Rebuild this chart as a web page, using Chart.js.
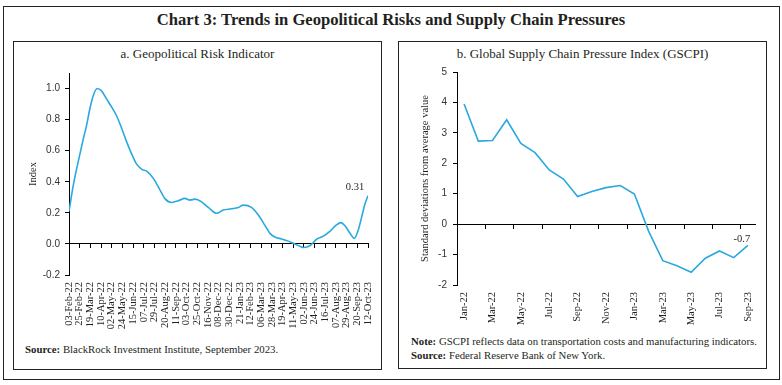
<!DOCTYPE html>
<html>
<head>
<meta charset="utf-8">
<script src="https://cdn.jsdelivr.net/npm/chart.js@4"></script>
<style>
  body { margin: 0; width: 782px; height: 385px; background: #fff; position: relative; font-family: "Liberation Serif", serif; color: #231f20; }
  .box { position: absolute; border: 1.3px solid #222; box-sizing: border-box; }
  .abs { position: absolute; white-space: nowrap; }
  .title { left: 0; width: 782px; top: 10px; text-align: center; font-size: 16.6px; font-weight: bold; }
  .ptitle { font-size: 13px; text-align: center; top: 46px; }
  .note { font-size: 10.8px; }
  canvas { position: absolute; }
</style>
</head>
<body>
<div class="box" style="left:3px; top:6px; width:777px; height:374px;"></div>
<div class="abs title">Chart 3: Trends in Geopolitical Risks and Supply Chain Pressures</div>

<div class="box" style="left:13px; top:41px; width:369px; height:329px;"></div>
<div class="abs ptitle" style="left:13px; width:369px;">a. Geopolitical Risk Indicator</div>
<canvas id="chartA" width="366" height="270" style="left:14px; top:60px;"></canvas>
<div class="abs note" style="left:25px; top:343px;"><b>Source:</b> BlackRock Investment Institute, September 2023.</div>

<div class="box" style="left:398px; top:41px; width:369px; height:328px;"></div>
<div class="abs ptitle" style="left:398px; width:369px;">b. Global Supply Chain Pressure Index (GSCPI)</div>
<canvas id="chartB" width="366" height="265" style="left:399px; top:60px;"></canvas>
<div class="abs note" style="left:411px; top:335px;"><b>Note:</b> GSCPI reflects data on transportation costs and manufacturing indicators.</div>
<div class="abs note" style="left:411px; top:349px;"><b>Source:</b> Federal Reserve Bank of New York.</div>

<script>
// a. Geopolitical risk indicator (days counted from 03-Feb-22)
var riskTickLabels = ['03-Feb-22','25-Feb-22','19-Mar-22','10-Apr-22','02-May-22','24-May-22','15-Jun-22',
  '07-Jul-22','29-Jul-22','20-Aug-22','11-Sep-22','03-Oct-22','25-Oct-22','16-Nov-22','08-Dec-22',
  '30-Dec-22','21-Jan-23','12-Feb-23','06-Mar-23','28-Mar-23','19-Apr-23','11-May-23','02-Jun-23',
  '24-Jun-23','16-Jul-23','07-Aug-23','29-Aug-23','20-Sep-23','12-Oct-23'];
var riskDays = [0,9,19,29,36,43,50,58,67,78,88,98,109,119,129,139,150,160,174,187,198,212,225,239,249,260,
  273,287,304,318,335,349,359,376,390,404,414,424,438,452,465,476,483,497,510,524,538,551,560,569,579,
  588,596,604,610,616];
var riskValues = [0.21,0.38,0.53,0.67,0.76,0.87,0.955,1.0,0.985,0.93,0.88,0.825,0.74,0.655,0.58,0.515,0.48,
  0.468,0.42,0.35,0.29,0.267,0.278,0.293,0.282,0.288,0.271,0.235,0.197,0.218,0.226,0.235,0.25,0.235,0.186,
  0.118,0.068,0.045,0.032,0.018,0.0,-0.015,-0.023,-0.01,0.03,0.05,0.083,0.122,0.137,0.115,0.068,0.036,
  0.09,0.186,0.26,0.31];

// b. GSCPI, monthly
var months = ['Jan-22','Feb-22','Mar-22','Apr-22','May-22','Jun-22','Jul-22','Aug-22','Sep-22','Oct-22',
  'Nov-22','Dec-22','Jan-23','Feb-23','Mar-23','Apr-23','May-23','Jun-23','Jul-23','Aug-23','Sep-23'];
var gscpi = [3.95,2.73,2.75,3.43,2.65,2.35,1.78,1.48,0.91,1.07,1.2,1.27,0.99,-0.23,-1.2,-1.37,-1.58,-1.12,-0.88,-1.1,-0.7];

var LINE = '#2aa8e0';
var serif = 'Liberation Serif';
var sans = 'Liberation Sans';
var ink = '#231f20';

function lastLabel(text, dx, dy) {
  return {
    id: 'lastLabel',
    afterDatasetsDraw: function(chart) {
      var pts = chart.getDatasetMeta(0).data;
      var p = pts[pts.length - 1];
      var c = chart.ctx;
      c.save();
      c.font = '10.5px ' + serif;
      c.fillStyle = ink;
      c.textAlign = 'center';
      c.textBaseline = 'middle';
      c.fillText(text, p.x + dx, p.y + dy);
      c.restore();
    }
  };
}

// no extra side padding for the rotated labels
function noSidePad(s, h) { s.height = h; s.paddingLeft = 0; s.paddingRight = 0; }

var ptsA = riskDays.map(function(d, i) { return {x: d, y: riskValues[i]}; });

new Chart(document.getElementById('chartA'), {
  type: 'line',
  data: { datasets: [{ data: ptsA, borderColor: LINE, borderWidth: 1.6, pointRadius: 0,
    cubicInterpolationMode: 'monotone', tension: 0.4 }] },
  options: {
    responsive: false, animation: false,
    layout: { padding: { top: 13, right: 12, left: 0, bottom: 0 } },
    plugins: { legend: { display: false }, tooltip: { enabled: false } },
    scales: {
      x: {
        type: 'linear', min: 0, max: 616,
        grid: { display: false, drawTicks: false }, border: { display: false },
        ticks: { stepSize: 22, autoSkip: false, minRotation: 90, maxRotation: 90, padding: 7,
          color: ink, font: { family: serif, size: 10.5 },
          callback: function(v) { return riskTickLabels[Math.round(v / 22)]; } },
        afterFit: function(s) { noSidePad(s, 55); }
      },
      x2: {
        type: 'linear', min: 0, max: 616, position: { y: 0 },
        grid: { drawOnChartArea: false, drawTicks: true, tickLength: 4, color: '#000' },
        border: { display: true, color: '#000', width: 1 },
        ticks: { stepSize: 22, display: false }
      },
      y: {
        min: -0.2, max: 1.1,
        grid: { drawOnChartArea: false, drawTicks: true, tickLength: 4, color: '#000' },
        border: { display: true, color: '#000', width: 1 },
        ticks: { stepSize: 0.2, padding: 5, color: '#333', font: { family: sans, size: 10 },
          callback: function(v) { return Math.abs(v) < 1e-9 ? '0.0' : v.toFixed(1); } },
        afterBuildTicks: function(s) { s.ticks = s.ticks.filter(function(t) { return t.value <= 1.0001; }); },
        title: { display: true, text: 'Index', color: ink, font: { family: serif, size: 10.5 }, padding: { top: 13, bottom: 0 } },
        afterFit: function(s) { s.width = 55; }
      }
    }
  },
  plugins: [lastLabel(riskValues[riskValues.length - 1].toFixed(2), -13, -9)]
});

new Chart(document.getElementById('chartB'), {
  type: 'line',
  data: { labels: months, datasets: [{ data: gscpi, borderColor: LINE, borderWidth: 1.6, pointRadius: 0, tension: 0 }] },
  options: {
    responsive: false, animation: false,
    layout: { padding: { top: 9, right: 10, left: 0, bottom: 0 } },
    plugins: { legend: { display: false }, tooltip: { enabled: false } },
    scales: {
      x: {
        type: 'category', offset: true,
        grid: { display: false, drawTicks: false, offset: true }, border: { display: false },
        ticks: { autoSkip: false, minRotation: 90, maxRotation: 90, padding: 7,
          color: ink, font: { family: serif, size: 10.5 },
          callback: function(v, i) { return i % 2 === 0 ? months[i] : ''; } },
        afterFit: function(s) { noSidePad(s, 40); }
      },
      x2: {
        type: 'category', labels: months, offset: true, position: { y: 0 },
        grid: { drawOnChartArea: false, drawTicks: true, tickLength: 4, offset: true,
          color: function(c) { return (c.index !== undefined && c.index % 2 === 0) ? '#000' : 'rgba(0,0,0,0)'; } },
        border: { display: true, color: '#000', width: 1 },
        ticks: { display: false }
      },
      y: {
        min: -2, max: 5,
        grid: { drawOnChartArea: false, drawTicks: true, tickLength: 4, color: '#000' },
        border: { display: true, color: '#000', width: 1 },
        ticks: { stepSize: 1, padding: 6, color: '#333', font: { family: sans, size: 10 } },
        title: { display: true, text: 'Standard deviations from average value', color: ink,
          font: { family: serif, size: 10.5 }, padding: { top: 20, bottom: 0 } },
        afterFit: function(s) { s.width = 58; }
      }
    }
  },
  plugins: [lastLabel(gscpi[gscpi.length - 1].toFixed(1), -6, -6)]
});
</script>
</body>
</html>
